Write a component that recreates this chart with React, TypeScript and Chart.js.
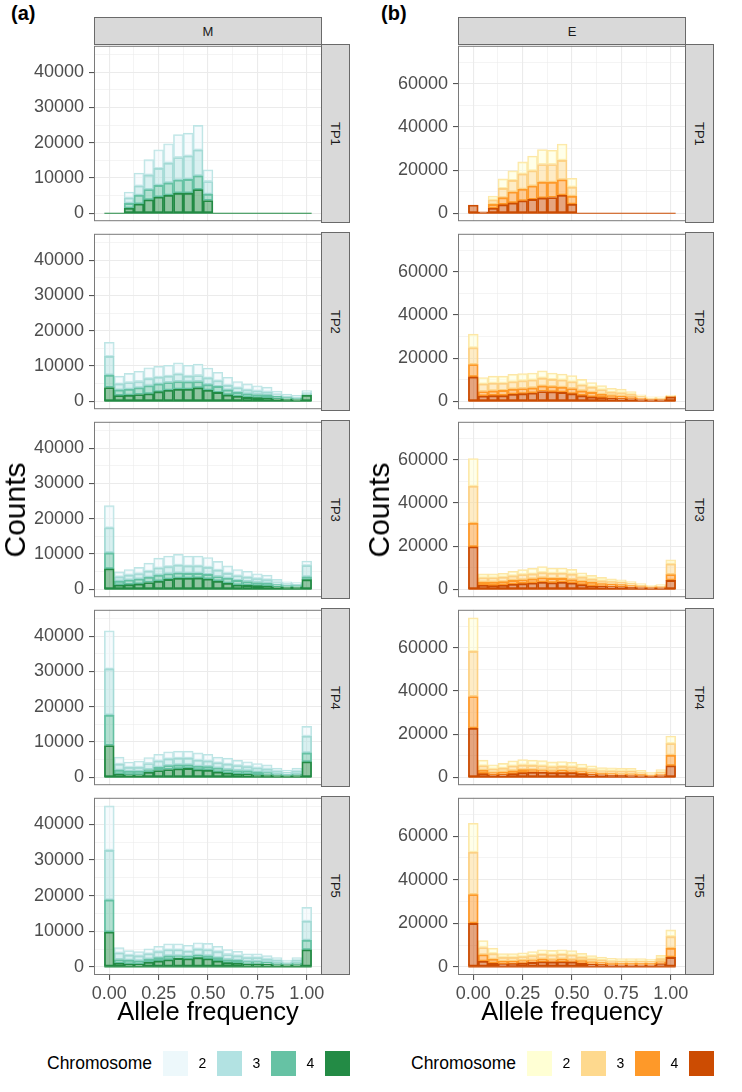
import { useEffect, useRef } from "react";
import { Chart, registerables } from "chart.js";

Chart.register(...registerables);
Chart.defaults.font.family = "'Liberation Sans', Arial, Helvetica, sans-serif";

// histogram bin centres (binwidth 0.05)
const BINS = [0, 0.05, 0.1, 0.15, 0.2, 0.25, 0.3, 0.35, 0.4, 0.45, 0.5, 0.55, 0.6, 0.65, 0.7, 0.75, 0.8, 0.85, 0.9, 0.95, 1.0];
const BIN_WIDTH = 0.05;
const TIMEPOINTS = ["TP1", "TP2", "TP3", "TP4", "TP5"];
const X_MAJOR = 0.25;
const X_MINOR = 0.125;
const LEGEND_TITLE = "Chromosome";
const LEGEND_LABELS = ["", "2", "3", "4"];

// counts per bin, one row per legend key (lightest first = top of the stack)
const M_TP1 = [
  [0, 0, 1700, 3700, 4400, 5300, 5500, 6500, 6500, 7000, 3300, 0, 0, 0, 0, 0, 0, 0, 0, 0, 0],
  [0, 0, 1500, 2600, 4100, 4800, 5600, 6400, 6600, 7300, 3600, 0, 0, 0, 0, 0, 0, 0, 0, 0, 0],
  [0, 0, 1400, 2500, 2900, 3300, 3500, 3700, 3900, 3900, 1800, 0, 0, 0, 0, 0, 0, 0, 0, 0, 0],
  [0, 0, 1400, 2600, 3800, 4600, 5100, 5700, 5700, 6700, 3600, 0, 0, 0, 0, 0, 0, 0, 0, 0, 0],
];
const M_TP2 = [
  [4000, 2200, 2600, 2900, 3100, 3100, 3100, 3200, 3100, 3200, 2800, 2400, 2300, 1800, 1700, 1500, 1400, 1000, 600, 600, 700],
  [5300, 1700, 1900, 1800, 2000, 1900, 1800, 2100, 1600, 1700, 1900, 1600, 1300, 1300, 1100, 1000, 800, 500, 400, 300, 400],
  [3500, 1600, 1700, 1900, 2300, 2200, 2200, 2200, 2100, 1800, 1600, 1700, 1400, 1100, 1000, 900, 900, 700, 400, 300, 200],
  [3900, 1600, 1700, 1900, 2100, 2700, 3100, 3400, 3400, 3800, 3100, 2500, 1800, 1400, 1100, 1000, 900, 700, 600, 500, 1700],
];
const M_TP3 = [
  [6300, 1400, 1600, 1800, 2300, 2800, 3000, 3100, 2800, 2800, 2800, 2500, 2100, 1800, 1700, 1400, 1300, 900, 600, 500, 1300],
  [7100, 1200, 1400, 1500, 1700, 2000, 2000, 2200, 2100, 2100, 2000, 1800, 1400, 1300, 1200, 1100, 1000, 600, 500, 400, 3200],
  [4500, 1100, 1300, 1400, 1500, 1700, 1600, 1500, 1400, 1300, 1300, 1300, 1400, 1300, 1100, 900, 800, 600, 400, 400, 800],
  [5800, 1200, 1300, 1500, 1900, 2300, 2800, 3100, 3100, 3200, 2900, 2300, 1700, 1200, 1100, 1000, 900, 700, 600, 600, 2700],
];
const M_TP4 = [
  [10800, 2000, 1500, 1800, 1700, 1900, 2000, 2000, 2000, 2100, 1900, 1600, 1700, 1500, 1400, 1300, 1200, 900, 700, 900, 2800],
  [13100, 1700, 1100, 1100, 1700, 1800, 1900, 1900, 1900, 1700, 1600, 1500, 1500, 1400, 1200, 1100, 1000, 800, 600, 800, 4700],
  [8600, 1100, 1000, 1000, 800, 900, 1100, 1100, 1000, 1000, 1000, 1100, 1000, 1000, 1000, 900, 700, 400, 300, 400, 2500],
  [9000, 900, 700, 700, 1400, 1900, 2200, 2400, 2500, 2100, 2000, 1500, 1200, 900, 800, 600, 600, 500, 400, 500, 4400],
];
const M_TP5 = [
  [12500, 1500, 1300, 1200, 1400, 1500, 1700, 1700, 1700, 1800, 1800, 1500, 1400, 1300, 1100, 1100, 1000, 700, 500, 700, 3900],
  [13900, 1800, 1400, 1400, 1500, 1700, 1700, 1700, 1400, 1700, 1700, 1700, 1400, 1200, 1100, 1100, 900, 800, 500, 800, 5300],
  [9000, 1100, 1100, 1000, 900, 900, 1100, 700, 700, 700, 800, 900, 900, 900, 700, 700, 600, 500, 300, 500, 2700],
  [9800, 1000, 800, 700, 1300, 1700, 2000, 2400, 2300, 2600, 2300, 1700, 1200, 1000, 800, 800, 700, 600, 600, 600, 4800],
];

const E_TP1 = [
  [0, 0, 1900, 4400, 4500, 5600, 6800, 6900, 6600, 7600, 4100, 0, 0, 0, 0, 0, 0, 0, 0, 0, 0],
  [0, 0, 2000, 4300, 5400, 7100, 7100, 8200, 8200, 9000, 4200, 0, 0, 0, 0, 0, 0, 0, 0, 0, 0],
  [0, 0, 1800, 3200, 5000, 5300, 6200, 7300, 7100, 7200, 3700, 0, 0, 0, 0, 0, 0, 0, 0, 0, 0],
  [3800, 600, 2300, 4000, 4800, 5800, 6400, 7100, 7300, 8300, 4200, 0, 0, 0, 0, 0, 0, 0, 0, 0, 0],
];
const E_TP2 = [
  [6300, 3000, 3300, 3300, 3500, 3300, 3300, 3400, 3000, 2800, 2900, 2600, 2200, 1900, 1800, 1700, 1300, 900, 600, 600, 500],
  [7800, 3500, 3500, 3300, 3400, 3600, 3600, 3600, 3300, 3300, 3100, 2700, 2400, 2100, 1600, 1600, 1200, 700, 500, 500, 300],
  [5700, 2100, 2200, 2400, 2400, 2400, 2400, 2600, 2400, 2400, 2400, 2200, 2100, 1500, 1200, 1100, 900, 600, 300, 300, 100],
  [11300, 2400, 2600, 2600, 3200, 3500, 3800, 4500, 4400, 4100, 3500, 2600, 2000, 1700, 1400, 1200, 1100, 800, 600, 600, 2000],
];
const E_TP3 = [
  [12900, 1800, 1800, 1800, 2100, 2300, 2600, 2800, 2400, 2400, 2200, 2000, 1700, 1600, 1300, 1200, 1000, 800, 400, 600, 1900],
  [17100, 2000, 2000, 2100, 2100, 2400, 2300, 2400, 2400, 2400, 2500, 1800, 1500, 1300, 1200, 1100, 900, 600, 500, 400, 4900],
  [10900, 1500, 1600, 1700, 1800, 1800, 1900, 2100, 2000, 1800, 1600, 1700, 1700, 1200, 1100, 1000, 800, 400, 300, 500, 2700],
  [19700, 1800, 1700, 1800, 2300, 2600, 2900, 3200, 3000, 3200, 2900, 2100, 1500, 1400, 1200, 1100, 900, 800, 600, 600, 4100],
];
const E_TP4 = [
  [15600, 2600, 2000, 2200, 2400, 2600, 2400, 2400, 2300, 2300, 2200, 2000, 1700, 1500, 1500, 1500, 1400, 1200, 800, 1200, 3500],
  [20900, 2100, 1700, 1800, 2200, 2100, 2000, 2000, 1800, 1800, 1800, 1500, 1500, 1200, 1200, 1200, 1200, 800, 600, 900, 5400],
  [14700, 1500, 1000, 1200, 1300, 1400, 1200, 1000, 900, 1100, 900, 900, 900, 700, 800, 600, 700, 600, 400, 600, 4900],
  [22700, 1700, 1100, 1200, 1700, 2100, 2300, 2300, 2100, 2100, 2100, 1700, 1200, 1100, 900, 900, 800, 600, 500, 800, 5300],
];
const E_TP5 = [
  [13300, 3200, 2500, 1700, 1700, 1800, 1900, 2100, 2100, 2100, 2000, 1700, 1600, 1300, 1200, 1200, 1200, 1200, 1000, 1500, 3100],
  [19400, 3300, 2600, 1800, 1800, 1800, 2000, 2200, 2200, 2200, 2200, 1600, 1300, 1200, 900, 900, 900, 900, 900, 1400, 5300],
  [13200, 3000, 1800, 1200, 1100, 1100, 1100, 1200, 1000, 1200, 1000, 1200, 1100, 900, 900, 800, 800, 800, 800, 1000, 4200],
  [20000, 2600, 1700, 1400, 1500, 1800, 2100, 2400, 2300, 2400, 2300, 1700, 1200, 1100, 900, 900, 900, 900, 900, 1400, 4400],
];

const GREENS = ["#edf8fb", "#b2e2e2", "#66c2a4", "#238b45"];
const GREEN_LINES = ["#bde5e5", "#a3dad4", "#66c2a4", "#238b45"];
const ORANGES = ["#ffffd4", "#fed98e", "#fe9929", "#cc4c02"];
const ORANGE_LINES = ["#fde7a6", "#fdd084", "#fe9929", "#cc4c02"];

// layout (px)
const PANEL_W = 228;
const PANEL_H = 179;
const PANEL_STEP = 188;
const FIRST_TOP = 44;
const STRIP_TOP = 17;
const STRIP_W = 28;
const PAD_T = 14;
const PAD_B = 14;
const PAD_R = 48;
const X_AXIS_H = 34;

const isMajor = (v: number | undefined, step: number) =>
  v !== undefined && v !== null && Math.abs(v / step - Math.round(v / step)) < 1e-6;

function withAlpha(hex: string, a: number) {
  const n = parseInt(hex.slice(1), 16);
  return `rgba(${(n >> 16) & 255}, ${(n >> 8) & 255}, ${n & 255}, ${a})`;
}

function maxTotal(panels: number[][][]) {
  let m = 0;
  panels.forEach((p) => BINS.forEach((_, i) => { m = Math.max(m, p.reduce((s, row) => s + row[i], 0)); }));
  return m;
}

// ticks at every multiple of `step` inside [lo, hi]
function stepTicks(lo: number, hi: number, step: number) {
  const out: { value: number }[] = [];
  for (let k = Math.ceil(lo / step - 1e-9); k * step <= hi + 1e-9; k++) out.push({ value: k * step });
  return out;
}

const panelBorder = {
  id: "panelBorder",
  afterDraw(chart: any) {
    const { ctx, chartArea: a } = chart;
    ctx.save();
    ctx.strokeStyle = "#7a7a7a";
    ctx.lineWidth = 1;
    ctx.strokeRect(a.left + 0.5, a.top + 0.5, a.right - a.left - 1, a.bottom - a.top - 1);
    ctx.restore();
  },
};

type PanelProps = {
  counts: number[][];
  fills: string[];
  lines: string[];
  yTop: number;
  yMajor: number;
  yMinor: number;
  showX: boolean;
  left: number;
  top: number;
  axisW: number;
};

function Panel({ counts, fills, lines, yTop, yMajor, yMinor, showX, left, top, axisW }: PanelProps) {
  const canvasRef = useRef<HTMLCanvasElement | null>(null);
  const width = axisW + PANEL_W + PAD_R;
  const height = PAD_T + PANEL_H + (showX ? X_AXIS_H : PAD_B);

  useEffect(() => {
    const canvas = canvasRef.current;
    if (!canvas) return;
    const lo = BINS[0] - BIN_WIDTH / 2;
    const hi = BINS[BINS.length - 1] + BIN_WIDTH / 2;
    const span = hi - lo;
    const xMin = lo - 0.05 * span;
    const xMax = hi + 0.05 * span;
    const yMin = -0.05 * yTop;
    const yMax = 1.05 * yTop;

    const order = counts.map((_, k) => k).reverse(); // darkest at the bottom
    const bars = order.map((k) => ({
      type: "bar" as const,
      label: LEGEND_LABELS[k],
      data: BINS.map((x, i) => ({ x, y: counts[k][i] })),
      backgroundColor: withAlpha(fills[k], 0.5),
      borderColor: lines[k],
      borderWidth: 1.2,
      borderSkipped: false as const,
      barPercentage: 1,
      categoryPercentage: 1,
      order: 1,
    }));

    const grid = (major: number, ticks: boolean) => ({
      offset: false,
      color: "#ebebeb",
      lineWidth: (c: any) => (isMajor(c.tick?.value, major) ? 1.1 : 0.55),
      drawTicks: ticks,
      tickLength: 5,
      tickWidth: 1.1,
      tickColor: (c: any) => (isMajor(c.tick?.value, major) ? "#555555" : "rgba(0,0,0,0)"),
    });

    const chart = new Chart(canvas, {
      type: "bar",
      data: {
        datasets: [
          ...bars,
          {
            type: "line" as const,
            label: "zero",
            data: [{ x: lo, y: 0 }, { x: hi, y: 0 }],
            borderColor: lines[lines.length - 1],
            borderWidth: 1.2,
            pointRadius: 0,
            order: 0,
          },
        ] as any,
      },
      options: {
        responsive: false,
        animation: false,
        events: [],
        layout: { padding: { top: PAD_T, bottom: showX ? 0 : PAD_B, left: 0, right: PAD_R } },
        plugins: { legend: { display: false }, tooltip: { enabled: false } },
        scales: {
          x: {
            type: "linear",
            min: xMin,
            max: xMax,
            offset: false,
            stacked: true,
            afterBuildTicks: (s: any) => { s.ticks = stepTicks(xMin, xMax, X_MINOR); },
            afterFit: (s: any) => { s.height = showX ? X_AXIS_H : 0; },
            border: { display: false },
            grid: grid(X_MAJOR, showX),
            ticks: {
              display: showX,
              autoSkip: false,
              maxRotation: 0,
              padding: 3,
              color: "#4d4d4d",
              font: { size: 18 },
              callback: (v: any) => (isMajor(Number(v), X_MAJOR) ? Number(v).toFixed(2) : ""),
            },
          },
          y: {
            type: "linear",
            min: yMin,
            max: yMax,
            stacked: true,
            afterBuildTicks: (s: any) => { s.ticks = stepTicks(yMin, yMax, yMinor); },
            afterFit: (s: any) => { s.width = axisW; },
            border: { display: false },
            grid: grid(yMajor, true),
            ticks: {
              autoSkip: false,
              padding: 5,
              color: "#4d4d4d",
              font: { size: 18 },
              callback: (v: any) => (isMajor(Number(v), yMajor) ? String(v) : ""),
            },
          },
        },
      } as any,
      plugins: [panelBorder],
    });

    return () => {
      chart.destroy();
    };
  }, []);

  return (
    <canvas
      ref={canvasRef}
      width={width}
      height={height}
      style={{ position: "absolute", left, top: top - PAD_T, width, height }}
    />
  );
}

type ColumnProps = {
  x0: number;
  panelLeft: number;
  tag: string;
  strip: string;
  panels: number[][][];
  fills: string[];
  lines: string[];
  yMajor: number;
  yMinor: number;
  countsX: number;
};

const stripStyle = {
  position: "absolute" as const,
  background: "#d9d9d9",
  border: "1px solid #6a6a6a",
  boxSizing: "border-box" as const,
  display: "flex",
  alignItems: "center",
  justifyContent: "center",
  fontSize: 13,
  color: "#1a1a1a",
};

function Column({ x0, panelLeft, tag, strip, panels, fills, lines, yMajor, yMinor, countsX }: ColumnProps) {
  const yTop = maxTotal(panels);
  const lastBottom = FIRST_TOP + (TIMEPOINTS.length - 1) * PANEL_STEP + PANEL_H;
  const midY = (FIRST_TOP + lastBottom) / 2;
  return (
    <>
      <div style={{ position: "absolute", left: x0 + 11, top: 3, fontSize: 20, lineHeight: "20px", fontWeight: 700 }}>
        {tag}
      </div>
      <div style={{ ...stripStyle, left: panelLeft, top: STRIP_TOP, width: PANEL_W, height: FIRST_TOP - STRIP_TOP + 1 }}>
        {strip}
      </div>
      {TIMEPOINTS.map((tp, i) => {
        const top = FIRST_TOP + i * PANEL_STEP;
        return (
          <div key={tp}>
            <Panel
              counts={panels[i]}
              fills={fills}
              lines={lines}
              yTop={yTop}
              yMajor={yMajor}
              yMinor={yMinor}
              showX={i === TIMEPOINTS.length - 1}
              left={x0}
              top={top}
              axisW={panelLeft - x0}
            />
            <div
              style={{
                ...stripStyle,
                left: panelLeft + PANEL_W - 1,
                top,
                width: STRIP_W + 1,
                height: PANEL_H,
                writingMode: "vertical-rl",
              }}
            >
              {tp}
            </div>
          </div>
        );
      })}
      <div
        style={{
          position: "absolute",
          left: countsX,
          top: midY,
          transform: "translate(-50%, -50%) rotate(-90deg)",
          fontSize: 30,
          lineHeight: "30px",
          whiteSpace: "nowrap",
        }}
      >
        Counts
      </div>
      <div
        style={{
          position: "absolute",
          left: panelLeft + PANEL_W / 2,
          top: 999,
          transform: "translateX(-50%)",
          fontSize: 25.5,
          lineHeight: "25.5px",
          whiteSpace: "nowrap",
        }}
      >
        Allele frequency
      </div>
      <div
        style={{
          position: "absolute",
          left: panelLeft - 47,
          top: 1063,
          transform: "translateY(-50%)",
          fontSize: 17.5,
          lineHeight: "20px",
          whiteSpace: "nowrap",
        }}
      >
        {LEGEND_TITLE}
      </div>
      {fills.map((c, k) => (
        <div key={k}>
          <div
            style={{
              position: "absolute",
              left: panelLeft + 69 + k * 54,
              top: 1063 - 12.5,
              width: 25,
              height: 25,
              background: c,
            }}
          />
          {LEGEND_LABELS[k] !== "" && (
            <div
              style={{
                position: "absolute",
                left: panelLeft + 69 + k * 54 - 14.5,
                top: 1063,
                transform: "translate(-50%, -50%)",
                fontSize: 14,
                lineHeight: "16px",
              }}
            >
              {LEGEND_LABELS[k]}
            </div>
          )}
        </div>
      ))}
    </>
  );
}

export default function App() {
  useEffect(() => {
    document.body.style.margin = "0";
  }, []);

  return (
    <div
      style={{
        position: "absolute",
        left: 0,
        top: 0,
        width: 742,
        height: 1092,
        background: "#ffffff",
        overflow: "hidden",
        fontFamily: "'Liberation Sans', Arial, Helvetica, sans-serif",
        color: "#000000",
      }}
    >
      <Column
        x0={0}
        panelLeft={94}
        tag="(a)"
        strip="M"
        panels={[M_TP1, M_TP2, M_TP3, M_TP4, M_TP5]}
        fills={GREENS}
        lines={GREEN_LINES}
        yMajor={10000}
        yMinor={5000}
        countsX={14.6}
      />
      <Column
        x0={370}
        panelLeft={458}
        tag="(b)"
        strip="E"
        panels={[E_TP1, E_TP2, E_TP3, E_TP4, E_TP5]}
        fills={ORANGES}
        lines={ORANGE_LINES}
        yMajor={20000}
        yMinor={10000}
        countsX={378.5}
      />
    </div>
  );
}
